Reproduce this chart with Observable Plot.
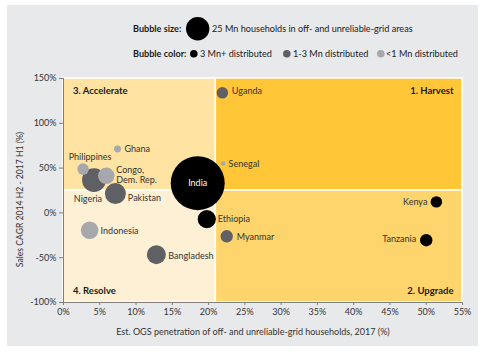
<!DOCTYPE html>
<html><head><meta charset="utf-8">
<script src="https://cdn.jsdelivr.net/npm/d3@7"></script>
<script src="https://cdn.jsdelivr.net/npm/@observablehq/plot@0.6"></script>
<style>
body{margin:0;background:#fff;font-family:Lato,sans-serif;}
#panel{position:absolute;left:7px;top:5px;width:471px;height:341px;background:#e8e9eb;}
#legend{position:absolute;left:0;top:0;width:485px;height:70px;}
#chart{position:absolute;left:0;top:70px;}
.lg{position:absolute;font-size:9.1px;color:#1a1a1a;white-space:nowrap;line-height:12px;height:12px;}
.lg b{font-weight:700;}
</style></head><body>
<div id="panel"></div>
<div id="legend"></div>
<div id="chart"></div>
<script>
// ---- data ----
const countries   = ["India","Nigeria","Pakistan","Bangladesh","Ethiopia","Indonesia","Congo,\nDem. Rep.","Tanzania","Myanmar","Uganda","Kenya","Philippines","Ghana","Senegal"];
const penetration = [18.5, 4.2, 7.15, 12.8, 19.75, 3.6, 5.9, 50.0, 22.5, 21.9, 51.4, 2.7, 7.45, 22.0];
const salesCagr   = [33.2, 36.6, 21.6, -46.6, -7.0, -19.4, 41.4, -30.5, -26.1, 134, 12.3, 48.9, 71.3, 55.1];
const households  = [133, 26, 20, 16.5, 15, 14, 12.5, 7, 7, 6, 6, 6, 2.2, 1];
const distributed = ["3 Mn+","1-3 Mn","1-3 Mn","1-3 Mn","3 Mn+","<1 Mn","<1 Mn","3 Mn+","1-3 Mn","1-3 Mn","3 Mn+","<1 Mn","<1 Mn","<1 Mn"];

const distCategories = ["3 Mn+","1-3 Mn","<1 Mn"];
const distLabels = ["3 Mn+ distributed","1-3 Mn distributed","<1 Mn distributed"];
const legendSizeValue = 25;
const legendSizeLabel = "25 Mn households in off- and unreliable-grid areas";

const xDomain = [0, 55];
const yDomain = [-100, 150];
const xTicks = [0,5,10,15,20,25,30,35,40,45,50,55];
const yTicks = [-100,-50,0,50,100,150];
const splitX = 21, splitY = 25;
const quadrantNames = ["3. Accelerate","1. Harvest","4. Resolve","2. Upgrade"];

const xLabel = "Est. OGS penetration of off- and unreliable-grid households, 2017 (%)";
const yLabel = "Sales CAGR 2014 H2 - 2017 H1 (%)";

// ---- styles ----
const FONT = "Lato, sans-serif";
const distColors = {"3 Mn+":"#000000","1-3 Mn":"#5f6063","<1 Mn":"#a7a8ab"};
const quadColors = ["#fee3a2","#ffc638","#fef0d4","#fed46c"];
const rRange = 11.7;

// label placement (style)
const labelPlace = {
  "India":{anchor:"middle",dx:0,dy:0,fill:"#ffffff"},
  "Nigeria":{anchor:"middle",dx:-6,dy:19},
  "Pakistan":{anchor:"start",dx:12.5,dy:4.5},
  "Bangladesh":{anchor:"start",dx:12,dy:1.5},
  "Ethiopia":{anchor:"start",dx:11,dy:0},
  "Indonesia":{anchor:"start",dx:11,dy:0.5},
  "Congo,\nDem. Rep.":{anchor:"start",dx:10,dy:-1},
  "Tanzania":{anchor:"end",dx:-10,dy:-1},
  "Myanmar":{anchor:"start",dx:10,dy:0.5},
  "Uganda":{anchor:"start",dx:9.5,dy:-2},
  "Kenya":{anchor:"end",dx:-9,dy:0},
  "Philippines":{anchor:"middle",dx:7,dy:-12},
  "Ghana":{anchor:"start",dx:7,dy:0},
  "Senegal":{anchor:"start",dx:5.5,dy:0}
};

const data = countries.map((c,i)=>({country:c, x:penetration[i], y:salesCagr[i], hh:households[i], dist:distributed[i]}))
  .sort((a,b)=>b.hh-a.hh);

const quads = [
  {name:quadrantNames[0], x1:xDomain[0], x2:splitX, y1:splitY, y2:yDomain[1], fill:quadColors[0], fa:"top-left", dx:9.5, dy:12.5},
  {name:quadrantNames[1], x1:splitX, x2:xDomain[1], y1:splitY, y2:yDomain[1], fill:quadColors[1], fa:"top-right", dx:-9, dy:12.5},
  {name:quadrantNames[2], x1:xDomain[0], x2:splitX, y1:yDomain[0], y2:splitY, fill:quadColors[2], fa:"bottom-left", dx:9.5, dy:-11.5},
  {name:quadrantNames[3], x1:splitX, x2:xDomain[1], y1:yDomain[0], y2:splitY, fill:quadColors[3], fa:"bottom-right", dx:-9, dy:-11.5}
];

const rScale = d3.scaleSqrt().domain([0, legendSizeValue]).range([0, rRange]);

const marks = [
  Plot.rect(quads, {x1:"x1", x2:"x2", y1:"y1", y2:"y2", fill:"fill", stroke:"#ffffff", strokeWidth:1.5}),
  ...quads.map(q => Plot.text([q], {frameAnchor:q.fa, text:"name", dx:q.dx, dy:q.dy, fontWeight:"bold", fontSize:9.5, fill:"#1a1a1a", lineAnchor:"middle"})),
  Plot.ruleX([xDomain[0]], {stroke:"#7f7f7f", strokeWidth:1}),
  Plot.ruleY([yDomain[0]], {stroke:"#7f7f7f", strokeWidth:1}),
  Plot.axisX({ticks:xTicks, tickFormat:d=>d+"%", tickSize:3, tickPadding:3, stroke:"#7f7f7f", label:null, fontSize:9}),
  Plot.axisY({ticks:yTicks, tickFormat:d=>d+"%", tickSize:4, tickPadding:3, stroke:"#7f7f7f", label:null, fontSize:9}),
  Plot.dot(data, {x:"x", y:"y", r:"hh", fill:d=>distColors[d.dist], stroke:"none"}),
  ...data.map(d => {
    const p = labelPlace[d.country];
    return Plot.text([d], {x:"x", y:"y", text:"country", textAnchor:p.anchor, dx:p.dx, dy:p.dy, fill:p.fill || "#333333", fontSize:9, lineAnchor:"middle", lineHeight:1.05});
  }),
  Plot.text([xLabel], {frameAnchor:"bottom", text:d=>d, textAnchor:"middle", dx:-10, dy:30, fontSize:9, fill:"#333333", lineAnchor:"middle"}),
  Plot.text([yLabel], {frameAnchor:"left", text:d=>d, textAnchor:"middle", rotate:-90, dx:-43, dy:9, fontSize:8.6, fill:"#333333", lineAnchor:"middle"})
];

const chart = Plot.plot({
  width:485, height:282,
  marginLeft:63, marginRight:23, marginTop:8, marginBottom:50,
  x:{domain:xDomain},
  y:{domain:yDomain},
  r:{type:"sqrt", domain:[0, legendSizeValue], range:[0, rRange]},
  color:{type:"identity"},
  style:{fontFamily:FONT, fontSize:"9px", color:"#333333", background:"transparent"},
  marks
});
document.getElementById("chart").appendChild(chart);

// ---- legend (HTML above the SVG) ----
const lg = document.getElementById("legend");
function addText(html, left, top){ const s=document.createElement("div"); s.className="lg"; s.innerHTML=html; s.style.left=left+"px"; s.style.top=(top-6)+"px"; lg.appendChild(s); return s; }
function addDot(cx, cy, r, color){
  const ns="http://www.w3.org/2000/svg";
  const svg=document.createElementNS(ns,"svg");
  svg.setAttribute("width", 2*r+2); svg.setAttribute("height", 2*r+2);
  svg.style.position="absolute"; svg.style.left=(cx-r-1)+"px"; svg.style.top=(cy-r-1)+"px";
  const c=document.createElementNS(ns,"circle");
  c.setAttribute("cx", r+1); c.setAttribute("cy", r+1); c.setAttribute("r", r); c.setAttribute("fill", color);
  svg.appendChild(c); lg.appendChild(svg);
}
addText("<b>Bubble size:</b>", 133, 29);
addDot(198, 29, rScale(legendSizeValue), distColors["3 Mn+"]);
addText(legendSizeLabel, 212, 29);
addText("<b>Bubble color:</b>", 133, 54);
const dotX = [194, 287, 381];
const txtX = [200, 293, 386];
distCategories.forEach((c,i)=>{
  addDot(dotX[i], 54, 3.8, distColors[c]);
  addText(distLabels[i], txtX[i], 54);
});
</script>
</body></html>
